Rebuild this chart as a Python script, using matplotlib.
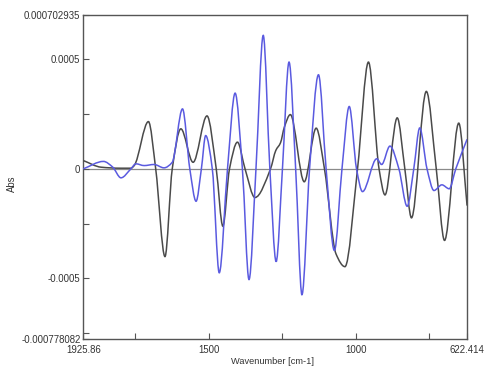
import numpy as np
import matplotlib
matplotlib.use("Agg")
import matplotlib.pyplot as plt
from matplotlib.path import Path
from matplotlib.patches import PathPatch

# ---- data (wavenumber cm-1, absorbance) ----
black_x = [1925.86, 1865.2, 1800.0, 1764.0, 1752.8, 1704.5, 1679.8, 1648.3, 1623.6,
           1594.4, 1552.8, 1505.6, 1474.2, 1451.7, 1429.2, 1402.2, 1376.4, 1342.7,
           1289.9, 1272.0, 1256.0, 1243.0, 1222.5, 1175.3, 1134.8, 1106.7, 1067.4, 1037.1, 994.4,
           957.3, 921.3, 901.1, 859.6, 833.7, 811.2, 760.7, 727.0, 698.9, 650.6, 622.414]
black_y = [3.8e-5, 7.6e-6, 3.0e-6, 3.0e-6, 1.5e-5, 2.16e-4, 0.0, -4.01e-4, 0.0,
           1.83e-4, 3.0e-5, 2.42e-4, 0.0, -2.62e-4, 0.0, 1.22e-4, 0.0, -1.31e-4,
           0.0, 8.4e-5, 1.19e-4, 1.9e-4, 2.48e-4, -5.9e-5, 1.86e-4, 0.0, -3.89e-4, -4.47e-4, 0.0,
           4.88e-4, 0.0, -1.19e-4, 2.33e-4, 0.0, -2.24e-4, 3.54e-4, 0.0, -3.27e-4, 2.09e-4, -1.68e-4]

blue_x = [1925.86, 1857.3, 1825.8, 1797.8, 1764.0, 1747.2, 1719.1, 1685.4, 1651.7, 1623.6,
          1588.8, 1564.0, 1542.7, 1524.7, 1510.1, 1487.6, 1464.0, 1436.0, 1410.1, 1385.4,
          1362.9, 1339.3, 1314.6, 1292.1, 1270.8, 1249.4, 1227.0, 1204.5, 1183.1, 1157.3,
          1127.0, 1101.1, 1073.0, 1047.2, 1022.5, 997.8, 977.5, 929.2, 912.4, 884.3,
          853.9, 825.8, 803.4, 783.1, 758.4, 734.8, 707.9, 683.1, 660.7, 622.414]
blue_y = [0.0, 3.4e-5, 8.0e-6, -4.1e-5, 0.0, 2.3e-5, 1.5e-5, 2.0e-5, 4.6e-6, 3.0e-5,
          2.74e-4, 0.0, -1.48e-4, 0.0, 1.52e-4, 0.0, -4.75e-4, 0.0, 3.46e-4, 0.0,
          -5.06e-4, 0.0, 6.1e-4, 0.0, -4.24e-4, 0.0, 4.88e-4, 0.0, -5.75e-4, 0.0,
          4.3e-4, 0.0, -3.73e-4, 0.0, 2.85e-4, 0.0, -1.04e-4, 4.6e-5, 2.0e-5, 1.04e-4,
          0.0, -1.71e-4, 0.0, 1.87e-4, 0.0, -9.9e-5, -7.3e-5, -9.1e-5, 0.0, 1.35e-4]

x_min, x_max = 622.414, 1925.86
y_min, y_max = -0.000778082, 0.000702935
ytick_vals = [y_min, -0.0005, 0.0, 0.0005, y_max]
ytick_labels = ["-0.000778082", "-0.0005", "0", "0.0005", "0.000702935"]
yminor_vals = [-0.00075, -0.00025, 0.00025]
xtick_vals = [1925.86, 1500, 1000, 622.414]
xtick_labels = ["1925.86", "1500", "1000", "622.414"]
xminor_vals = [1750, 1250, 750]


def smooth_path(x, y):
    x = np.asarray(x, float)
    y = np.asarray(y, float)
    h = np.diff(x)
    d = np.diff(y) / h
    n = len(x)
    m = np.zeros(n)
    for k in range(1, n - 1):
        if d[k - 1] * d[k] > 0:
            h0, h1 = abs(h[k - 1]), abs(h[k])
            w1 = 2 * h1 + h0
            w2 = h1 + 2 * h0
            m[k] = (w1 + w2) / (w1 / d[k - 1] + w2 / d[k])
    m[0] = d[0]
    m[-1] = d[-1]
    verts = [(x[0], y[0])]
    codes = [Path.MOVETO]
    for i in range(n - 1):
        hh = x[i + 1] - x[i]
        verts += [(x[i] + hh / 3, y[i] + m[i] * hh / 3),
                  (x[i + 1] - hh / 3, y[i + 1] - m[i + 1] * hh / 3),
                  (x[i + 1], y[i + 1])]
        codes += [Path.CURVE4] * 3
    return Path(verts, codes)


plt.rcParams["font.family"] = ["Liberation Sans", "DejaVu Sans"]
fig = plt.figure(figsize=(4.84, 3.67), dpi=100)
ax = fig.add_axes([0.172, 0.076, 0.793, 0.883])

ax.axhline(0, color="#8a8a8a", lw=0.9, zorder=1)
ax.add_patch(PathPatch(smooth_path(black_x, black_y), fill=False,
                       edgecolor="#4a4a4a", lw=1.1, zorder=3))
ax.add_patch(PathPatch(smooth_path(blue_x, blue_y), fill=False,
                       edgecolor="#5a5ae0", lw=1.1, zorder=4))

ax.set_xlim(x_max, x_min)
ax.set_ylim(y_min, y_max)

ax.set_yticks(ytick_vals)
ax.set_yticklabels(ytick_labels)
ax.set_yticks(yminor_vals, minor=True)
ax.set_xticks(xtick_vals)
ax.set_xticklabels(xtick_labels)
ax.set_xticks(xminor_vals, minor=True)

ax.tick_params(axis="y", which="both", direction="in", length=4, width=0.8,
               color="#555555", labelsize=6.9, labelcolor="#333333", pad=2)
ax.tick_params(axis="x", which="both", direction="in", length=4, width=0.8,
               color="#555555", labelsize=6.9, labelcolor="#333333", pad=4)

for s in ax.spines.values():
    s.set_color("#555555")
    s.set_linewidth(1.0)

ax.set_xlabel("Wavenumber [cm-1]", fontsize=6.7, color="#333333")
ax.xaxis.set_label_coords(0.492, -0.055)
ax.set_ylabel("Abs", fontsize=6.9, color="#333333")
ax.yaxis.set_label_coords(-0.172, 0.48)

fig.savefig("out.png", dpi=100)
